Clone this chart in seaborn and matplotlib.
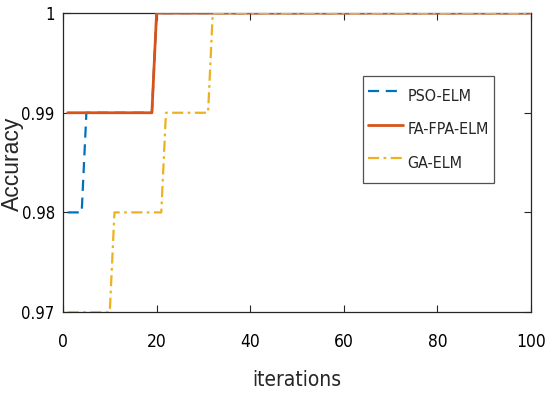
import numpy as np
import pandas as pd
import matplotlib
matplotlib.use("Agg")
import matplotlib.pyplot as plt
import seaborn as sns

# ===== DATA =====
pso_iter = [1, 4, 5, 19, 20, 100]
pso_acc = [0.98, 0.98, 0.99, 0.99, 1.0, 1.0]

fafpa_iter = [1, 19, 20, 100]
fafpa_acc = [0.99, 0.99, 1.0, 1.0]

ga_iter = [1, 10, 11, 21, 22, 31, 32, 100]
ga_acc = [0.97, 0.97, 0.98, 0.98, 0.99, 0.99, 1.0, 1.0]

x_ticks = [0, 20, 40, 60, 80, 100]
y_ticks = [0.97, 0.98, 0.99, 1.0]
y_ticklabels = ["0.97", "0.98", "0.99", "1"]

# ===== STYLE =====
sns.set_style("ticks")
plt.rcParams["font.family"] = ["DejaVu Sans"]
plt.rcParams["font.stretch"] = "condensed"
plt.rcParams["axes.edgecolor"] = "#262626"
plt.rcParams["axes.linewidth"] = 0.9

fig = plt.figure(figsize=(5.5, 3.97), dpi=100)
ax = fig.add_axes([0.1145, 0.214, 0.851, 0.753])

sns.lineplot(x=pso_iter, y=pso_acc, ax=ax, color="#0072BD", linewidth=1.6,
             linestyle=(0, (5, 3)), label="PSO-ELM", estimator=None, sort=False)
sns.lineplot(x=fafpa_iter, y=fafpa_acc, ax=ax, color="#D95319", linewidth=2.0,
             label="FA-FPA-ELM", estimator=None, sort=False)
sns.lineplot(x=ga_iter, y=ga_acc, ax=ax, color="#EDB120", linewidth=1.6,
             linestyle=(0, (5, 2, 1.2, 2)), label="GA-ELM", estimator=None, sort=False)

ax.set_xlim(0, 100)
ax.set_ylim(0.97, 1.0)
ax.set_xticks(x_ticks)
ax.set_yticks(y_ticks)
ax.set_yticklabels(y_ticklabels)
ax.tick_params(direction="in", length=5, width=0.8, top=True, right=True,
               labelsize=12.5, colors="#262626")
ax.tick_params(axis="x", pad=15)
ax.tick_params(axis="y", pad=6, labelsize=12)
for lab in ax.get_xticklabels() + ax.get_yticklabels():
    lab.set_color("black")

ax.set_xlabel("iterations", fontsize=15, labelpad=14)
ax.set_ylabel("Accuracy", fontsize=16.5,
              family=["Liberation Sans", "DejaVu Sans"], fontstretch="normal")
ax.yaxis.set_label_coords(-0.083, 0.495)

for s in ax.spines.values():
    s.set_visible(True)
    s.set_zorder(0)

leg = ax.legend(loc="upper left", bbox_to_anchor=(0.64, 0.79), fontsize=11.5,
                frameon=True, fancybox=False, edgecolor="#262626",
                handlelength=2.2, handleheight=2.4, handletextpad=0.25,
                borderpad=0.35, labelspacing=0.3, borderaxespad=0)
leg.get_frame().set_linewidth(0.9)

fig.savefig("out.png", dpi=100, facecolor="white")
